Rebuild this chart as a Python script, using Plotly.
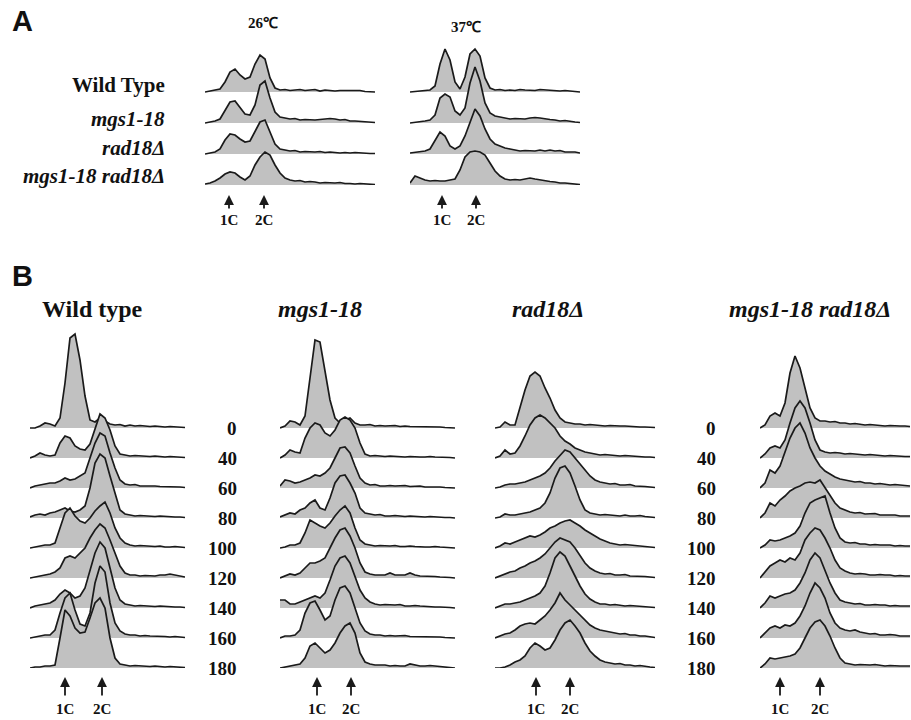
import plotly.graph_objects as go

W, H = 911, 720

# ---------------- DATA ----------------
A_strains = ["<b>Wild Type</b>", "<b><i>mgs1-18</i></b>", "<b><i>rad18Δ</i></b>", "<b><i>mgs1-18 rad18Δ</i></b>"]
A_temps = ["26℃", "37℃"]

# Panel A, 26 C histograms (counts per channel), rows top->bottom
A26_wt  = [0,1,2,3,10,20,23,17,13,15,28,37,33,14,4,2,2.5,1.5,2,2.5,1.5,2,2.5,1,2,1.5,1,1.5,1.5,1,1,1.5,0.5,0.5,0]
A26_mgs = [0,1,2,4,12,21,22,15,9,8,18,38,42,25,11,6,5,4,4.5,3,3.5,3,3,3.5,4,4.5,4,3,3.5,2,2,1.5,1,1,0.5]
A26_rad = [0,1,2,5,14,20,19,15,12,13,22,32,34,22,10,5,4,3,3.5,2,2.5,2,2,2.5,1.5,2,1.5,1,1.5,1,1.5,1,1,0.5,0.5]
A26_dbl = [1,2,4,7,11,13,12,8,5,9,20,28,33,30,20,12,7,5,4,4.5,3,3.5,3,2,2.5,2,2,2.5,1.5,1.5,1,1.5,1,1,0.5]
# Panel A, 37 C
A37_wt  = [0,0.5,1,1,2,6,28,43,32,10,3,15,38,43,36,14,4,2,2.5,1.5,2,1.5,2.5,2,2,1.5,2.5,2,1.5,1.5,1,1.5,1,0.5,0]
A37_mgs = [0,0.5,1,2,3,8,25,29,26,12,8,15,40,56,42,20,10,7,6,5,4,4.5,4,4,5,5.5,5,4,3.5,3,2,2.5,1.5,1,0.5]
A37_rad = [1,1.5,2,3,5,14,22,18,8,5,8,18,32,45,38,25,15,10,8,6,5,4,3,3.5,3,3,4,3,4,3,3.5,2,2,2,1]
A37_dbl = [2,9,7,5,4,4.5,4,4,5,6,15,28,33,34,33,30,22,14,9,6,5,5.5,5,6,7,6,5,4,3.5,3,2,2,1.5,1,0.5]

# 1C / 2C marker channels
A26_marks = [4.8, 11.8]
A37_marks = [6.4, 13.2]

B_strains = ["<b>Wild type</b>", "<b><i>mgs1-18</i></b>", "<b><i>rad18Δ</i></b>", "<b><i>mgs1-18 rad18Δ</i></b>"]
B_times = ["0", "40", "60", "80", "100", "120", "140", "160", "180"]
C_labels = ["1C", "2C"]

B_wt = [
    [0,0,2,5,4,2,10,45,90,94,68,32,8,6,10,7,4,3,3.5,2,3,2,2.5,2,1.5,2,1.5,1,1.5,1,1,0.5],
    [0,2,5,3,2,3,15,22,20,12,9,8,14,30,44,40,28,12,4,3,2,2.5,2,2,1.5,2,1.5,1,1.5,1,1,0.5],
    [0,2,3,4,5,5,7,10,8,9,12,15,30,45,55,52,35,20,8,4,3,3.5,2,2,2.5,2,1.5,1.5,1,1.5,1,0.5],
    [1,3,4,3,5,6,8,10,7,6,8,12,30,55,64,60,42,25,8,4,3,2,2.5,2,2,1.5,2,1.5,1,1,1,0.5],
    [0,1,2,3,3,5,20,35,40,32,27,25,30,37,42,46,35,20,10,5,3,2,2.5,2,1.5,1.5,2,1,1,1.5,1,0.5],
    [0,1,2,3,4,6,10,20,22,20,25,30,40,48,54,50,38,25,12,5,3,3,2,2.5,2,2,3,3,4,3,2,1],
    [0,2,3,4,5,8,14,18,15,10,12,20,38,55,66,60,40,20,8,4,3,2,2.5,2,2,1.5,2,1.5,1,1,1,0.5],
    [0,1,2,3,3,8,25,40,45,28,14,12,25,55,72,66,35,15,7,4,3,3,2,2.5,2,2,1.5,1.5,1,1.5,1,0.5],
    [0,1,1,2,2,3,30,58,52,40,35,36,50,65,70,60,30,10,4,3,2,2.5,2,2,1.5,2,1.5,1,1.5,1,1,0.5],
]
B_mgs = [
    [0,2,7,6,3,12,50,88,86,55,28,10,5,8,10,5,3,3,3.5,2,2.5,2,2,2.5,1.5,2,1.5,1.5,1,1.5,1,1,1,0.5,0.5,0],
    [0,3,8,6,5,20,30,35,33,25,22,28,38,41,38,30,15,4,2,2.5,2,1.5,2,1.5,1.5,1,1.5,1,1,1,1.5,1,1,0.5,0.5,0],
    [2,8,7,5,6,8,10,13,12,15,20,30,40,41,35,22,10,5,3,3.5,2,2,2.5,2,2,2.5,1.5,1.5,2,1,1,1.5,1,0.5,0.5,0],
    [1,3,5,4,8,10,15,18,10,8,20,35,42,43,35,25,10,5,4,3,3.5,2,2,2.5,2,1.5,2,1.5,1,1,1.5,1,1,0.5,0.5,0],
    [0,1,3,3,5,15,28,25,22,20,25,32,38,42,35,20,8,4,3,2,2.5,2,2,2.5,1.5,1.5,2,1.5,1,1,1,1.5,1,0.5,0.5,0],
    [0,2,4,3,5,10,15,15,17,20,30,40,48,50,42,30,15,6,4,3,3,3,5,3,3,3,5,3,2,2,2,1.5,1,1,0.5,0],
    [8,8,4,4,6,8,10,12,10,15,28,42,50,52,45,32,18,10,6,4,3,3.5,3,3,3.5,2,2,2.5,2,1.5,1.5,1,1,1,0.5,0],
    [0,2,2,3,8,25,35,37,28,18,22,38,50,52,45,30,15,7,4,3,3,2,2.5,2,2,2.5,1.5,1.5,1.5,1,1,1.5,1,0.5,0.5,0],
    [0,1,2,3,4,10,22,25,20,15,18,25,35,42,45,35,15,6,4,3,3,3,2,2.5,2,2,4,3,2,2,2.5,2,1.5,1,0.5,0],
]
B_rad = [
    [0,1,6,3,3,20,38,52,56,52,40,30,18,10,6,5,4,4,3,3.5,3,3,2,2.5,2,2,2,1.5,1.5,1,1,1,0.5],
    [0,2,8,4,5,12,22,33,40,43,40,35,30,22,17,14,10,8,6,5,4,3,3.5,3,3,2,2.5,2,2,1.5,1,1,0.5],
    [0,1,3,4,4,5,6,8,10,12,15,20,27,33,38,36,30,25,18,12,8,6,5,4,4.5,3,3,3.5,2,2,1.5,1,0.5],
    [0,1,4,3,3,4,5,6,8,10,15,25,40,50,52,45,32,18,8,5,4,3,3.5,3,3,2,3,2,2,2.5,1.5,1,0.5],
    [0,2,5,4,6,8,10,12,11,13,16,20,22,25,27,28,25,22,18,15,12,9,7,5,4,3,3.5,3,2,2,1.5,1,0.5],
    [0,2,4,6,7,10,12,15,17,20,24,30,36,40,38,36,30,22,15,10,7,5,4,4.5,3,3,3.5,2,2,2,1.5,1,0.5],
    [0,2,4,4,5,6,8,10,12,15,22,35,50,56,52,42,32,22,14,9,6,4,4,3,3.5,3,2,2.5,2,2,1.5,1,0.5],
    [0,2,4,5,8,12,14,15,14,18,22,28,35,45,38,33,28,22,17,13,10,8,7,6,5,4,4.5,3,3,2,2,1.5,0.5],
    [0,0,1,3,6,8,12,20,25,22,18,20,28,38,45,48,42,35,25,17,12,8,6,5,4,4.5,3,3,2,2.5,1.5,1,0.5],
]
B_dbl = [
    [0,3,12,15,12,25,55,72,60,40,20,10,7,7,6,6.5,5,5,4,4.5,4,3,3.5,3,3,2,2.5,2,2,2,1.5],
    [0,4,10,12,10,18,35,50,57,50,35,18,8,6,5,5.5,5,4,4.5,4,3,3,3.5,3,2,2,2.5,2,2,1.5,1.5],
    [0,5,18,15,22,35,50,60,65,55,40,30,22,17,14,11,9,8,7,6,6.5,5,5,4,4.5,4,3,3.5,3,2,2],
    [0,5,15,12,18,22,27,30,32,35,36,35,38,30,22,15,10,8,6,5,5.5,4,4,4.5,3,3,3.5,3,2,2,2],
    [0,3,8,7,8,10,12,15,22,35,45,48,50,52,35,20,10,6,5,5.5,4,4,3,3.5,3,3,3,2,2.5,2,2],
    [0,6,12,15,18,16,20,18,25,38,45,50,48,40,30,18,10,7,5,4,4.5,4,3,3,3.5,3,3,2,2.5,2,2],
    [0,5,12,10,12,14,15,18,25,35,48,55,50,38,25,15,8,6,5,4,4.5,3,3,3.5,3,3,2,2.5,2,2,2],
    [0,5,10,12,10,13,12,15,22,32,45,55,50,40,25,15,10,8,7,8,6,5,4,4.5,3,3,3.5,3,2,2,2],
    [0,4,10,9,10,11,12,14,20,30,40,46,48,42,32,20,10,5,4,3,3.5,3,3,3.5,3,2,2.5,2,2,2,2],
]
B_wt_marks = [7.0, 14.4]
B_mgs_marks = [7.4, 14.2]
B_rad_marks = [8.2, 15.0]
B_dbl_marks = [4.0, 12.0]

# ---------------- STYLE ----------------
FILL = "#c1c1c1"
LINE = "#1a1a1a"
SERIF = "Liberation Serif"
SANS = "Liberation Sans"

fig = go.Figure()
layout = dict(width=W, height=H, margin=dict(l=0, r=0, t=0, b=0),
              paper_bgcolor="white", plot_bgcolor="white", showlegend=False)
annotations = []


def px2x(px):
    return px / W


def px2y(py):
    return 1 - py / H


def add_group(gi, rows, x0, step, bottom, spacing, top, marks, tip_px, lab_px, sso):
    n = max(len(r) for r in rows)
    xa = "xaxis" if gi == 1 else f"xaxis{gi}"
    ya = "yaxis" if gi == 1 else f"yaxis{gi}"
    xr = "x" if gi == 1 else f"x{gi}"
    yr = "y" if gi == 1 else f"y{gi}"
    layout[xa] = dict(domain=[px2x(x0), px2x(x0 + step * (n - 1))], range=[0, n - 1],
                      visible=False, fixedrange=True)
    layout[ya] = dict(domain=[px2y(bottom), px2y(top)], range=[0, bottom - top],
                      visible=False, fixedrange=True)
    nrows = len(rows)
    for k, row in enumerate(rows):
        off = (nrows - 1 - k) * spacing
        xs = list(range(len(row)))
        ys = [off + v for v in row]
        fig.add_trace(go.Scatter(x=xs + xs[::-1], y=ys + [off] * len(xs), fill="toself",
                                 fillcolor=FILL, line=dict(width=0), mode="lines",
                                 xaxis=xr, yaxis=yr, hoverinfo="skip"))
        fig.add_trace(go.Scatter(x=xs, y=ys, mode="lines", line=dict(color=LINE, width=1.7),
                                 xaxis=xr, yaxis=yr, hoverinfo="skip"))
    for m, lab in zip(marks, C_labels):
        annotations.append(dict(x=m, xref=xr, y=px2y(tip_px), yref="paper", text=f"<b>{lab}</b>",
                                showarrow=True, ax=0, ay=lab_px - tip_px, arrowhead=2, arrowsize=1.1,
                                arrowwidth=1.8, arrowcolor=LINE, startstandoff=sso,
                                font=dict(family=SERIF, size=15, color="#111")))


# Panel A groups
add_group(1, [A26_wt, A26_mgs, A26_rad, A26_dbl], 205, 5, 185, 31, 40, A26_marks, 195, 220, 2)
add_group(2, [A37_wt, A37_mgs, A37_rad, A37_dbl], 410, 5, 185, 31, 40, A37_marks, 195, 220, 2)
# Panel B groups
add_group(3, B_wt, 30, 5, 668, 30, 322, B_wt_marks, 677, 709, 4)
add_group(4, B_mgs, 280, 5, 668, 30, 322, B_mgs_marks, 677, 709, 4)
add_group(5, B_rad, 495, 5, 668, 30, 322, B_rad_marks, 677, 709, 4)
add_group(6, B_dbl, 760, 5, 668, 30, 322, B_dbl_marks, 677, 709, 4)


def text(s, x, y, size, family=SERIF, xanchor="center"):
    annotations.append(dict(x=px2x(x), y=px2y(y), xref="paper", yref="paper", text=s,
                            showarrow=False, xanchor=xanchor, yanchor="middle",
                            font=dict(family=family, size=size, color="#111")))


# panel letters
text("<b>A</b>", 10, 21, 29, SANS, "left")
text("<b>B</b>", 10, 276, 29, SANS, "left")
# temperatures
text(f"<b>{A_temps[0]}</b>", 263, 23, 15)
text(f"<b>{A_temps[1]}</b>", 466, 27, 15)
# panel A row labels
for s, y in zip(A_strains, [85, 119, 148, 176]):
    text(s, 167, y, 21, SERIF, "right")
# panel B column titles
for s, x in zip(B_strains, [92, 320, 548, 810]):
    text(s, x, 309, 24)
# time labels
for i, t in enumerate(B_times):
    y = 428 + 30 * i
    text(f"<b>{t}</b>", 239, y, 19, SERIF, "right")
    text(f"<b>{t}</b>", 718, y, 19, SERIF, "right")

layout["annotations"] = annotations
fig.update_layout(**layout)
fig.write_html("out.html", config={"displayModeBar": False},
               post_script="document.body.style.margin='0';document.body.style.overflow='hidden';")
